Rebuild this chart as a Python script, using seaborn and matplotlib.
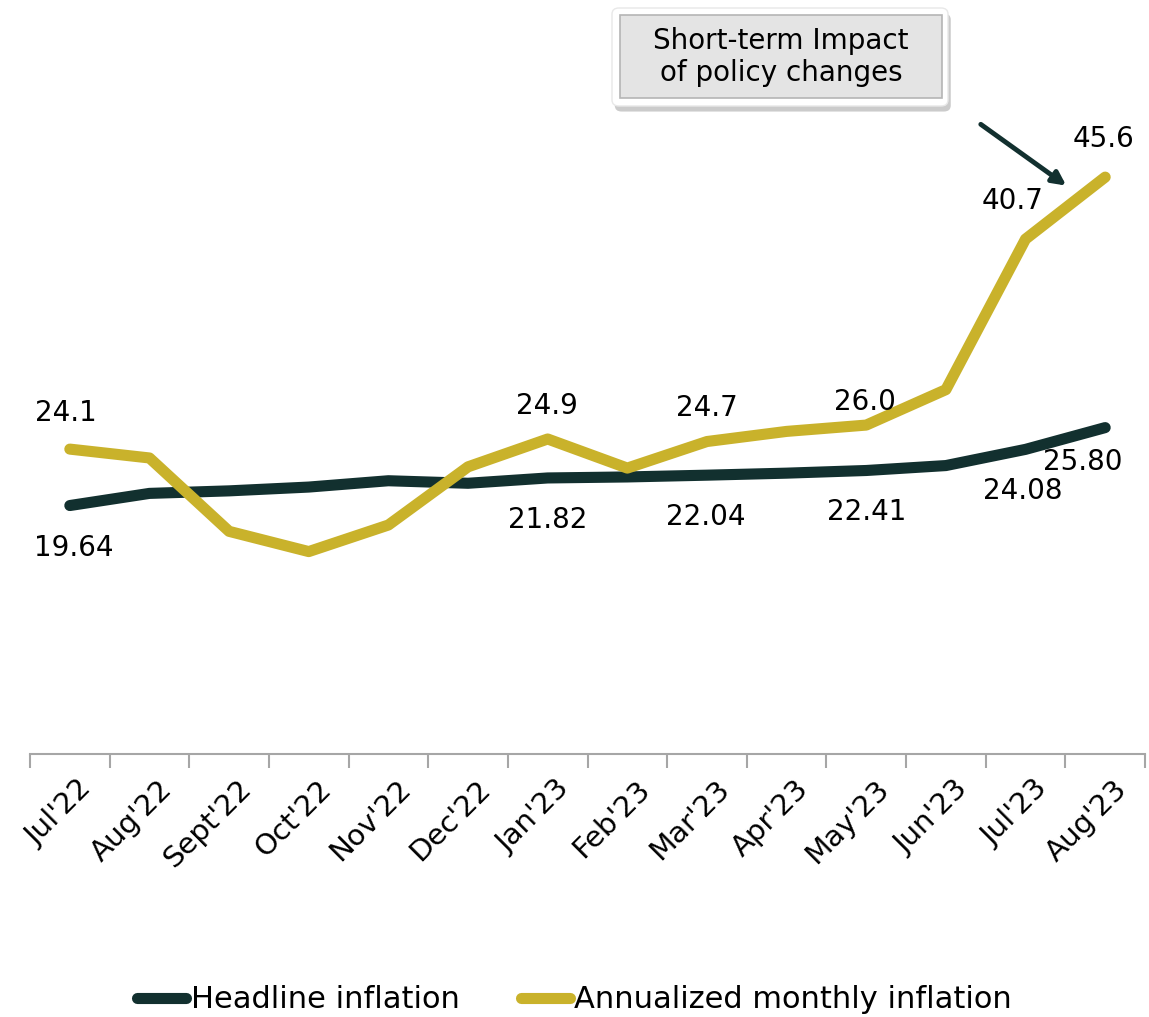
import pandas as pd
import matplotlib.pyplot as plt
import matplotlib.patheffects as pe
from matplotlib.patches import FancyBboxPatch
from matplotlib.lines import Line2D
from matplotlib.transforms import ScaledTranslation
import seaborn as sns

months = ["Jul'22", "Aug'22", "Sept'22", "Oct'22", "Nov'22", "Dec'22", "Jan'23",
          "Feb'23", "Mar'23", "Apr'23", "May'23", "Jun'23", "Jul'23", "Aug'23"]
headline = [19.64, 20.6, 20.8, 21.1, 21.6, 21.4, 21.82, 21.9, 22.04, 22.2, 22.41, 22.8, 24.08, 25.80]
annualized = [24.1, 23.4, 17.6, 16.0, 18.1, 22.7, 24.9, 22.6, 24.7, 25.5, 26.0, 28.8, 40.7, 45.6]

# which points get a label, and the label text
headline_labels = {0: "19.64", 6: "21.82", 8: "22.04", 10: "22.41", 12: "24.08", 13: "25.80"}
annual_labels = {0: "24.1", 6: "24.9", 8: "24.7", 10: "26.0", 12: "40.7", 13: "45.6"}

dark = "#12302f"
gold = "#c9b22b"

df = pd.DataFrame({
    "month": months * 2,
    "value": headline + annualized,
    "series": ["Headline inflation"] * len(months) + ["Annualized monthly inflation"] * len(months),
})

sns.set_style("white")
plt.rcParams["font.family"] = ["DejaVu Sans"]

fig = plt.figure(figsize=(11.49, 10.17), dpi=100)
ax = fig.add_axes([30 / 1149, 0.2586, 1115 / 1149, 0.7414])

sns.lineplot(data=df, x="month", y="value", hue="series", sort=False,
             palette={"Headline inflation": dark, "Annualized monthly inflation": gold},
             linewidth=8, solid_capstyle="round", solid_joinstyle="round",
             legend=False, ax=ax)

ax.set_xlim(-0.5, 13.5)
ax.set_ylim(0, 59.6)
ax.set_xlabel("")
ax.set_ylabel("")
ax.set_yticks([])
for s in ["top", "left", "right"]:
    ax.spines[s].set_visible(False)
ax.spines["bottom"].set_color("#a6a6a6")
ax.spines["bottom"].set_linewidth(1.5)

ax.set_xticks(range(len(months)))
ax.set_xticklabels(months, rotation=45, ha="right", rotation_mode="anchor", fontsize=21, color="black")
ax.tick_params(axis="x", which="major", length=0, pad=15)
shift = ScaledTranslation(8 / 100, 0, fig.dpi_scale_trans)
for lbl in ax.get_xticklabels():
    lbl.set_transform(lbl.get_transform() + shift)
ax.set_xticks([i - 0.5 for i in range(len(months) + 1)], minor=True)
ax.tick_params(axis="x", which="minor", bottom=True, length=10, width=1.5,
               color="#a6a6a6", direction="out")

# data labels (offsets in pixels)
h_off = {0: (4, -42), 6: (0, -42), 8: (-1, -42), 10: (0, -42), 12: (-3, -42), 13: (-22, -34)}
a_off = {0: (-4, 36), 6: (-1, 33), 8: (0, 34), 10: (-1, 23), 12: (-13, 38), 13: (-2, 38)}
for i, txt in headline_labels.items():
    ax.annotate(txt, (i, headline[i]), xytext=h_off[i], textcoords="offset pixels",
                ha="center", va="center", fontsize=20, color="black")
for i, txt in annual_labels.items():
    ax.annotate(txt, (i, annualized[i]), xytext=a_off[i], textcoords="offset pixels",
                ha="center", va="center", fontsize=20, color="black")

# call-out box
outer = FancyBboxPatch((612 / 1149, 1 - 106 / 1017), 336 / 1149, 98 / 1017,
                       boxstyle="round,pad=0,rounding_size=0.006", transform=fig.transFigure,
                       facecolor="white", edgecolor="#e8e8e8", linewidth=1,
                       path_effects=[pe.SimplePatchShadow(offset=(2, -4), shadow_rgbFace="#999999", alpha=0.5),
                                     pe.Normal()])
fig.patches.append(outer)
inner = FancyBboxPatch((620 / 1149, 1 - 98 / 1017), 322 / 1149, 83 / 1017,
                       boxstyle="square,pad=0", transform=fig.transFigure,
                       facecolor="#e4e4e4", edgecolor="#b5b5b5", linewidth=1.2)
fig.patches.append(inner)
fig.text(781 / 1149, 1 - 57 / 1017, "Short-term Impact\nof policy changes", ha="center", va="center",
         fontsize=20, color="black", linespacing=1.15)

ax.annotate("", xy=(12.54, 44.8), xytext=(11.41, 49.9),
            arrowprops=dict(arrowstyle="-|>,head_length=0.8,head_width=0.4", color=dark, lw=3.5))

handles = [Line2D([0], [0], color=dark, lw=8, solid_capstyle="round"),
           Line2D([0], [0], color=gold, lw=8, solid_capstyle="round")]
fig.legend(handles, ["Headline inflation", "Annualized monthly inflation"], loc="center",
           bbox_to_anchor=(0.5, 1 - 1000 / 1017), ncol=2, frameon=False, fontsize=22,
           labelcolor="black", handlelength=1.6, handletextpad=0.15, columnspacing=2.0)

fig.savefig("out.png", dpi=100)
